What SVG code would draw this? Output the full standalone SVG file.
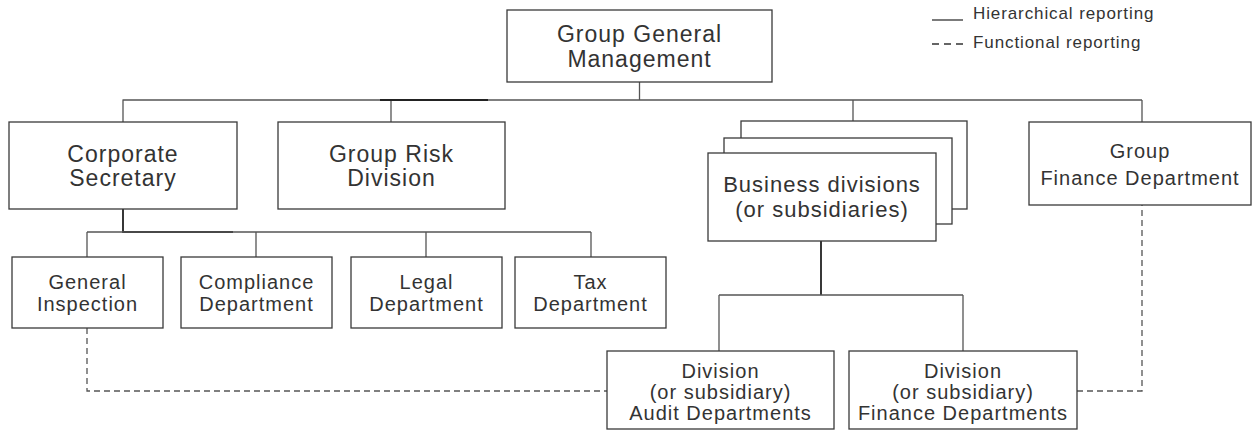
<svg xmlns="http://www.w3.org/2000/svg" width="1252" height="432" viewBox="0 0 1252 432">
<style>
.box{fill:#fff;stroke:#3a3a3a;stroke-width:1.3}
.t{font-family:"Liberation Sans",Arial,sans-serif;fill:#333;text-anchor:middle;letter-spacing:1px}
.l{font-size:23px}
.m{font-size:22px}
.s{font-size:20px}
.leg{font-family:"Liberation Sans",Arial,sans-serif;fill:#333;font-size:17px;letter-spacing:0.9px}
.ln{fill:none;stroke:#555;stroke-width:1.3}
.dk{fill:none;stroke:#222;stroke-width:1.8}
.ds{fill:none;stroke:#555;stroke-width:1.3;stroke-dasharray:6 4}
</style>
<rect width="1252" height="432" fill="#fff"/>
<g id="legend">
<line x1="932" y1="20" x2="963" y2="20" stroke="#333" stroke-width="1.3"/>
<text class="leg" x="973" y="19">Hierarchical reporting</text>
<line x1="932" y1="44" x2="963" y2="44" stroke="#333" stroke-width="1.3" stroke-dasharray="7 5"/>
<text class="leg" x="973" y="48">Functional reporting</text>
</g>
<g id="connectors">
<path class="ln" d="M639.5,82 V100 M122.5,100 H1142 M123,100 V122 M391,100 V122 M853,100 V121 M1142,100 V122"/>
<path class="dk" d="M380,100 H488"/>
<path class="dk" d="M123,209 V232 H233"/>
<path class="ln" d="M87,232 H591 M87,232 V257 M256,232 V257 M426,232 V257 M591,232 V257"/>
<path class="dk" d="M821,241 V295"/>
<path class="ln" d="M719,295 H963 M719,295 V351 M963,295 V351"/>
<path class="ds" d="M87,328 V391 H607"/>
<path class="ds" d="M1077,391 H1142 V205"/>
</g>
<g id="ggm">
<rect class="box" x="507" y="10" width="265" height="72"/>
<text class="t l" x="639.5" y="42">Group General</text>
<text class="t l" x="639.5" y="67">Management</text>
</g>
<g id="corporate-secretary">
<rect class="box" x="9" y="122" width="228" height="87"/>
<text class="t l" x="123" y="162">Corporate</text>
<text class="t l" x="123" y="186">Secretary</text>
</g>
<g id="group-risk">
<rect class="box" x="278" y="122" width="227" height="87"/>
<text class="t l" x="391.5" y="162">Group Risk</text>
<text class="t l" x="391.5" y="186">Division</text>
</g>
<g id="business-divisions">
<rect class="box" x="741" y="121" width="226" height="88"/>
<rect class="box" x="724" y="138" width="228" height="86"/>
<rect class="box" x="708" y="153" width="228" height="88"/>
<text class="t m" x="822" y="192">Business divisions</text>
<text class="t m" x="822" y="217">(or subsidiaries)</text>
</g>
<g id="group-finance">
<rect class="box" x="1029" y="122" width="222" height="83"/>
<text class="t s" x="1140" y="158">Group</text>
<text class="t s" x="1140" y="185">Finance Department</text>
</g>
<g id="general-inspection">
<rect class="box" x="12" y="257" width="151" height="71"/>
<text class="t s" x="87.5" y="289">General</text>
<text class="t s" x="87.5" y="311">Inspection</text>
</g>
<g id="compliance">
<rect class="box" x="181" y="257" width="151" height="71"/>
<text class="t s" x="256.5" y="289">Compliance</text>
<text class="t s" x="256.5" y="311">Department</text>
</g>
<g id="legal">
<rect class="box" x="351" y="257" width="151" height="71"/>
<text class="t s" x="426.5" y="289">Legal</text>
<text class="t s" x="426.5" y="311">Department</text>
</g>
<g id="tax">
<rect class="box" x="515" y="257" width="151" height="71"/>
<text class="t s" x="590.5" y="289">Tax</text>
<text class="t s" x="590.5" y="311">Department</text>
</g>
<g id="audit">
<rect class="box" x="607" y="351" width="227" height="78"/>
<text class="t s" x="720.5" y="378">Division</text>
<text class="t s" x="720.5" y="399">(or subsidiary)</text>
<text class="t s" x="720.5" y="420">Audit Departments</text>
</g>
<g id="division-finance">
<rect class="box" x="849" y="351" width="228" height="78"/>
<text class="t s" x="963" y="378">Division</text>
<text class="t s" x="963" y="399">(or subsidiary)</text>
<text class="t s" x="963" y="420">Finance Departments</text>
</g>
</svg>
